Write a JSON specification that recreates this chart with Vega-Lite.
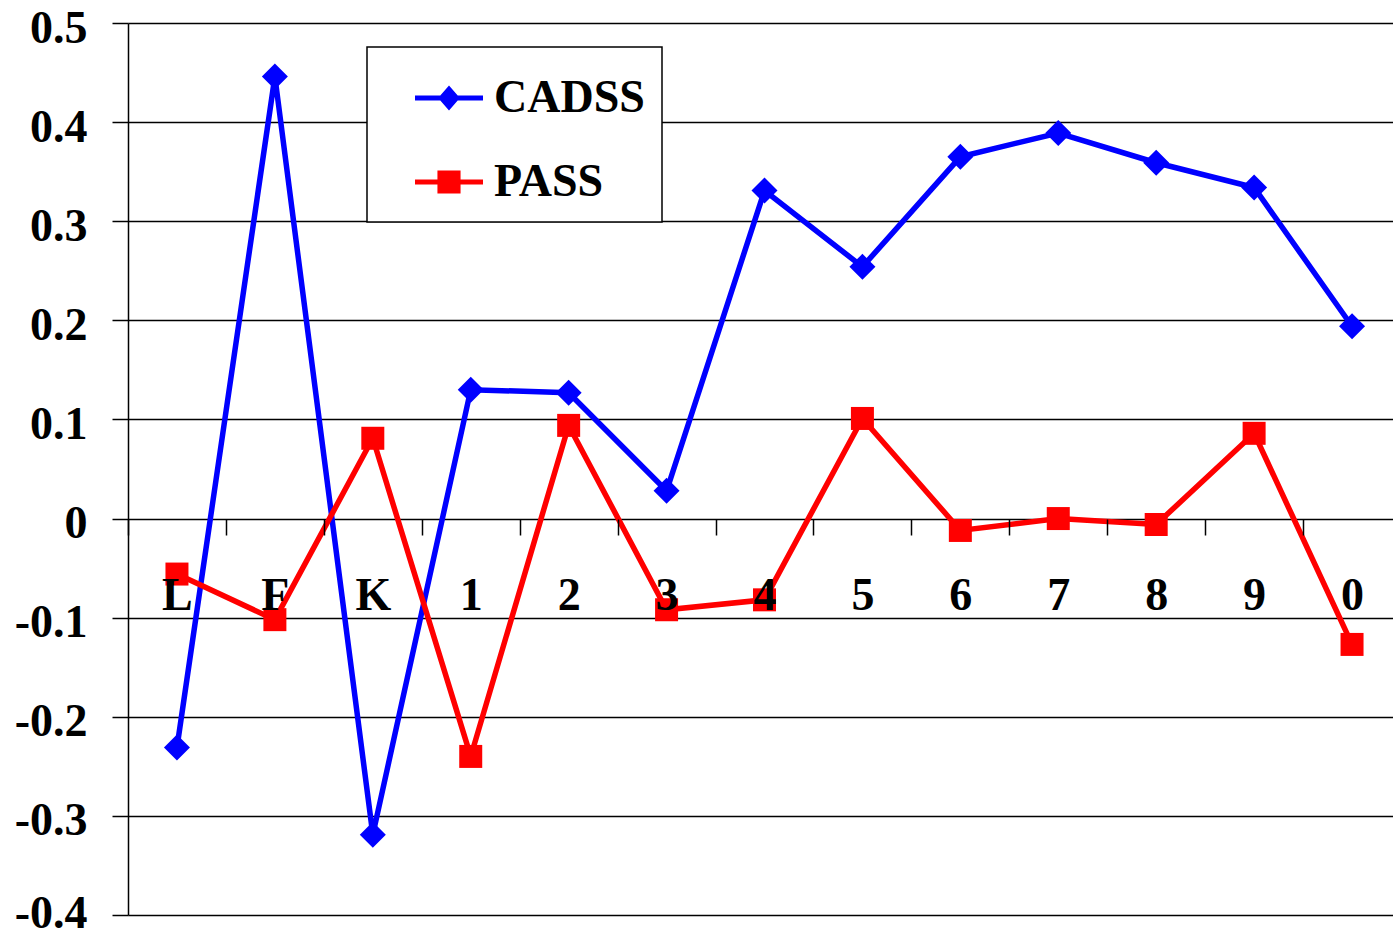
{
  "$schema": "https://vega.github.io/schema/vega-lite/v6.json",
  "width": 1265,
  "height": 892,
  "autosize": {"type": "none"},
  "padding": {"left": 128, "top": 23, "right": 0, "bottom": 22},
  "background": "white",
  "config": {
    "view": {"stroke": null},
    "font": "Liberation Serif"
  },
  "data": {
    "values": [
      {"group": "L", "series": "CADSS", "value": -0.231},
      {"group": "F", "series": "CADSS", "value": 0.446},
      {"group": "K", "series": "CADSS", "value": -0.319},
      {"group": "1", "series": "CADSS", "value": 0.130},
      {"group": "2", "series": "CADSS", "value": 0.127},
      {"group": "3", "series": "CADSS", "value": 0.028},
      {"group": "4", "series": "CADSS", "value": 0.331},
      {"group": "5", "series": "CADSS", "value": 0.254},
      {"group": "6", "series": "CADSS", "value": 0.365},
      {"group": "7", "series": "CADSS", "value": 0.389},
      {"group": "8", "series": "CADSS", "value": 0.359},
      {"group": "9", "series": "CADSS", "value": 0.334},
      {"group": "0", "series": "CADSS", "value": 0.194},
      {"group": "L", "series": "PASS", "value": -0.056},
      {"group": "F", "series": "PASS", "value": -0.102},
      {"group": "K", "series": "PASS", "value": 0.081},
      {"group": "1", "series": "PASS", "value": -0.240},
      {"group": "2", "series": "PASS", "value": 0.094},
      {"group": "3", "series": "PASS", "value": -0.092},
      {"group": "4", "series": "PASS", "value": -0.082},
      {"group": "5", "series": "PASS", "value": 0.101},
      {"group": "6", "series": "PASS", "value": -0.012},
      {"group": "7", "series": "PASS", "value": 0.0},
      {"group": "8", "series": "PASS", "value": -0.006},
      {"group": "9", "series": "PASS", "value": 0.086},
      {"group": "0", "series": "PASS", "value": -0.127}
    ]
  },
  "encoding": {
    "x": {
      "field": "group",
      "type": "nominal",
      "sort": ["L", "F", "K", "1", "2", "3", "4", "5", "6", "7", "8", "9", "0"],
      "scale": {"type": "band", "range": [0, 1273], "paddingInner": 0, "paddingOuter": 0},
      "axis": {
        "orient": "bottom",
        "offset": -396,
        "title": null,
        "grid": false,
        "domain": false,
        "ticks": true,
        "tickBand": "extent",
        "tickSize": 16,
        "tickColor": "#000000",
        "tickWidth": 1.5,
        "labelAngle": 0,
        "labelPadding": 38,
        "labelFont": "Liberation Serif",
        "labelFontWeight": "bold",
        "labelFontSize": 46,
        "labelColor": "#000000",
        "zindex": 1
      }
    },
    "y": {
      "field": "value",
      "type": "quantitative",
      "scale": {"domain": [-0.4, 0.5], "nice": false, "zero": false},
      "axis": {
        "title": null,
        "values": [-0.4, -0.3, -0.2, -0.1, 0, 0.1, 0.2, 0.3, 0.4, 0.5],
        "labelExpr": "datum.value === 0 ? '0' : (datum.value < 0 ? '-' : '') + format(abs(datum.value), '.1f')",
        "grid": true,
        "gridColor": "#000000",
        "gridWidth": 1.5,
        "gridOpacity": 1,
        "domainColor": "#000000",
        "domainWidth": 1.5,
        "tickColor": "#000000",
        "tickWidth": 1.5,
        "tickSize": 16,
        "labelPadding": 25,
        "labelOffset": {"condition": {"test": "datum.value === -0.4", "value": -2}, "value": 5},
        "labelFont": "Liberation Serif",
        "labelFontWeight": "bold",
        "labelFontSize": 46,
        "labelColor": "#000000"
      }
    },
    "color": {
      "field": "series",
      "type": "nominal",
      "scale": {"domain": ["CADSS", "PASS"], "range": ["#0000FF", "#FF0000"]},
      "legend": {
        "title": null,
        "orient": "none",
        "legendX": 239,
        "legendY": 24,
        "padding": 17,
        "fillColor": "#FFFFFF",
        "strokeColor": "#000000",
        "symbolSize": 4624,
        "symbolStrokeWidth": 0,
        "symbolOffset": 31,
        "labelOffset": 11,
        "rowPadding": 27,
        "labelFont": "Liberation Serif",
        "labelFontWeight": "bold",
        "labelFontSize": 46,
        "labelColor": "#000000",
        "labelExpr": "datum.label + '\u00a0\u00a0\u00a0\u2009'",
        "encode": {
          "legend": {
            "update": {"strokeWidth": {"value": 1.5}}
          },
          "symbols": {
            "update": {
              "shape": {
                "signal": "datum.value === 'CADSS' ? 'M-1,-0.074H-0.256L0,-0.37L0.256,-0.074H1V0.074H0.256L0,0.37L-0.256,0.074H-1Z' : 'M-1,-0.074H-0.34V-0.34H0.34V-0.074H1V0.074H0.34V0.34H-0.34V0.074H-1Z'"
              },
              "strokeWidth": {"value": 0},
              "opacity": {"value": 1}
            }
          }
        }
      }
    }
  },
  "layer": [
    {
      "mark": {"type": "line", "strokeWidth": 5.5}
    },
    {
      "mark": {"type": "point", "filled": true, "opacity": 1, "strokeWidth": 0},
      "encoding": {
        "shape": {
          "field": "series",
          "type": "nominal",
          "scale": {"domain": ["PASS", "CADSS"], "range": ["square", "diamond"]},
          "legend": null
        },
        "size": {
          "field": "series",
          "type": "nominal",
          "scale": {"domain": ["PASS", "CADSS"], "range": [529, 676]},
          "legend": null
        }
      }
    }
  ]
}
